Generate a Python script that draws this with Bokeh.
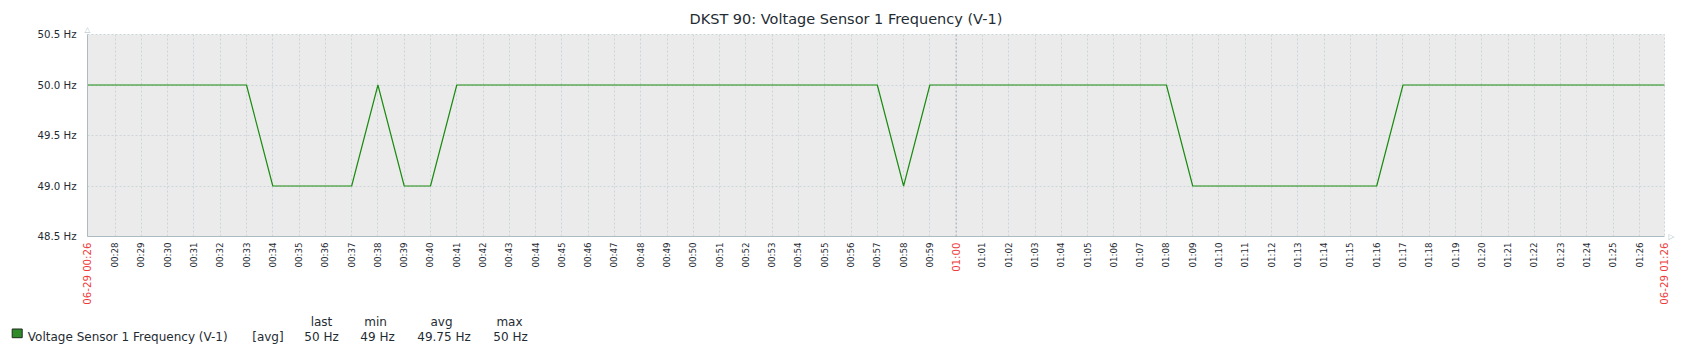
import numpy as np
import pandas as pd
from bokeh.plotting import figure
from bokeh.models import (Range1d, FixedTicker, PrintfTickFormatter, DatetimeTickFormatter,
                          Span, Label, ColumnDataSource)
from bokeh.layouts import column
from bokeh.core.properties import value
from bokeh.embed import file_html
from bokeh.resources import INLINE

# ---------------- data ----------------
title_text = "DKST 90: Voltage Sensor 1 Frequency (V-1)"
day = "2024-06-29"
range_start = "00:26:57"
range_end = "01:26:57"

sample_times = [
    "00:26", "00:27", "00:28", "00:29", "00:30", "00:31", "00:32", "00:33",
    "00:34", "00:35", "00:36", "00:37", "00:38", "00:39", "00:40", "00:41",
    "00:42", "00:43", "00:44", "00:45", "00:46", "00:47", "00:48", "00:49",
    "00:50", "00:51", "00:52", "00:53", "00:54", "00:55", "00:56", "00:57",
    "00:58", "00:59", "01:00", "01:01", "01:02", "01:03", "01:04", "01:05",
    "01:06", "01:07", "01:08", "01:09", "01:10", "01:11", "01:12", "01:13",
    "01:14", "01:15", "01:16", "01:17", "01:18", "01:19", "01:20", "01:21",
    "01:22", "01:23", "01:24", "01:25", "01:26", "01:27",
]
freq_hz = [
    50, 50, 50, 50, 50, 50, 50, 50,
    49, 49, 49, 49, 50, 49, 49, 50,
    50, 50, 50, 50, 50, 50, 50, 50,
    50, 50, 50, 50, 50, 50, 50, 50,
    49, 50, 50, 50, 50, 50, 50, 50,
    50, 50, 50, 49, 49, 49, 49, 49,
    49, 49, 49, 50, 50, 50, 50, 50,
    50, 50, 50, 50, 50, 50,
]

x_tick_times = [
    "00:28", "00:29", "00:30", "00:31", "00:32", "00:33", "00:34", "00:35",
    "00:36", "00:37", "00:38", "00:39", "00:40", "00:41", "00:42", "00:43",
    "00:44", "00:45", "00:46", "00:47", "00:48", "00:49", "00:50", "00:51",
    "00:52", "00:53", "00:54", "00:55", "00:56", "00:57", "00:58", "00:59",
    "01:01", "01:02", "01:03", "01:04", "01:05", "01:06", "01:07", "01:08",
    "01:09", "01:10", "01:11", "01:12", "01:13", "01:14", "01:15", "01:16",
    "01:17", "01:18", "01:19", "01:20", "01:21", "01:22", "01:23", "01:24",
    "01:25", "01:26",
]
red_label_times = [range_start, "01:00", range_end]
red_label_texts = ["06-29 00:26", "01:00", "06-29 01:26"]
red_label_panels = ["left", "left", "right"]
hour_mark = "01:00"

y_ticks = [48.5, 49.0, 49.5, 50.0, 50.5]

legend_name = "Voltage Sensor 1 Frequency (V-1)"
legend_func = "[avg]"
stat_names = ["last", "min", "avg", "max"]
stat_values = ["50 Hz", "49 Hz", "49.75 Hz", "50 Hz"]

# ---------------- styles ----------------
FONT = "DejaVu Sans"
TEXT = "#1F2C33"
RED = "#EE3A3A"
GRID = "#CCD5D9"
AXIS = "#ACBBC2"
LINE = "#1A8C11"


def ts(s):
    return pd.Timestamp(f"{day} {s}")


def ms(s):
    return ts(s).value // 10**6


x0, x1 = ts(range_start), ts(range_end)

p = figure(width=1696, height=310, x_axis_type="datetime",
           x_range=Range1d(x0, x1), y_range=Range1d(y_ticks[0], y_ticks[-1]),
           output_backend="svg", toolbar_location=None,
           min_border_left=87, min_border_right=32, min_border_top=34, min_border_bottom=74,
           background_fill_color="#EBEBEB", border_fill_color="white",
           outline_line_color=GRID, outline_line_dash="2 2")
try:
    p.frame_align = False
except Exception:
    pass

src = ColumnDataSource(dict(t=[ts(s) for s in sample_times], v=freq_hz))
p.line(x="t", y="v", source=src, line_color=LINE, line_width=1.2)

# title
p.title.text = title_text
p.title.align = "left"
p.title.offset = 602
p.title.standoff = 16
p.title.text_font = FONT
p.title.text_font_size = "14.5px"
p.title.text_font_style = "normal"
p.title.text_color = TEXT

# x axis
p.xaxis.ticker = FixedTicker(ticks=[ms(s) for s in x_tick_times])
fmt = "%H:%M"
p.xaxis.formatter = DatetimeTickFormatter(milliseconds=fmt, seconds=fmt, minsec=fmt, minutes=fmt,
                                          hourmin=fmt, hours=fmt, days=fmt, months=fmt, years=fmt)
p.xaxis.major_label_orientation = np.pi / 2
p.xaxis.major_label_text_font = FONT
p.xaxis.major_label_text_font_size = "8.7px"
p.xaxis.major_label_text_color = TEXT
p.xaxis.major_label_standoff = 6
p.xaxis.major_tick_out = 0
p.xaxis.major_tick_in = 0
p.xaxis.minor_tick_out = 0
p.xaxis.minor_tick_in = 0
p.xaxis.axis_line_color = AXIS

# y axis
p.yaxis.ticker = FixedTicker(ticks=y_ticks)
p.yaxis.formatter = PrintfTickFormatter(format="%.1f Hz")
p.yaxis.major_label_text_font = FONT
p.yaxis.major_label_text_font_size = "10.2px"
p.yaxis.major_label_text_color = TEXT
p.yaxis.major_label_standoff = 11
p.yaxis.major_tick_out = 0
p.yaxis.major_tick_in = 0
p.yaxis.minor_tick_out = 0
p.yaxis.minor_tick_in = 0
p.yaxis.axis_line_color = AXIS

# grids
for g in (p.xgrid, p.ygrid):
    g.grid_line_color = GRID
    g.grid_line_dash = "2 2"
    g.grid_line_width = 1

p.add_layout(Span(location=ms(hour_mark), dimension="height", line_color="#9AA7AE",
                  line_dash="2 2", line_width=1))

# red time labels (in side panels so that they are not clipped by the frame)
for t_s, txt, side in zip(red_label_times, red_label_texts, red_label_panels):
    p.add_layout(Label(x=ms(t_s), y=y_ticks[0], text=txt, angle=np.pi / 2, y_offset=-6,
                       text_align="right", text_baseline="middle",
                       text_font=FONT, text_font_size="10.2px", text_color=RED), side)

# axis end arrows
p.add_layout(Label(x=ms(range_start), y=y_ticks[-1], text="\u25B3", y_offset=5.5,
                   text_align="center", text_baseline="alphabetic",
                   text_font=FONT, text_font_size="7.5px", text_color=AXIS), "right")
p.add_layout(Label(x=ms(range_end), y=y_ticks[0], text="\u25B7", x_offset=4,
                   text_align="left", text_baseline="middle",
                   text_font=FONT, text_font_size="7.5px", text_color=AXIS), "right")

# ---------------- legend strip ----------------
leg = figure(width=1696, height=41, x_range=Range1d(0, 1696), y_range=Range1d(41, 0),
             output_backend="svg", toolbar_location=None, min_border=0,
             x_axis_location=None, y_axis_location=None, outline_line_color=None,
             background_fill_color="white", border_fill_color="white")
try:
    leg.frame_align = False
except Exception:
    pass
leg.grid.visible = False
leg.quad(left=[11.7], right=[21.7], top=[18.5], bottom=[27.2], fill_color="#2F8A2A", line_color="#1E2A1E")
leg.text(x=[27.3], y=[26.8], text=[legend_name], text_font=value(FONT), text_font_size="12px",
         text_color=TEXT, text_baseline="alphabetic", text_align="left")
leg.text(x=[251.7], y=[26.8], text=[legend_func], text_font=value(FONT), text_font_size="12px",
         text_color=TEXT, text_baseline="alphabetic", text_align="left")
head_x = [321, 375, 441, 509]
val_x = [321, 377, 443.5, 510]
leg.text(x=head_x, y=[11.8] * 4, text=stat_names, text_font=value(FONT), text_font_size="12px",
         text_color=TEXT, text_baseline="alphabetic", text_align="center")
leg.text(x=val_x, y=[26.8] * 4, text=stat_values, text_font=value(FONT), text_font_size="12px",
         text_color=TEXT, text_baseline="alphabetic", text_align="center")

layout = column(p, leg, spacing=0)
open("out.html", "w").write(file_html(layout, INLINE))
